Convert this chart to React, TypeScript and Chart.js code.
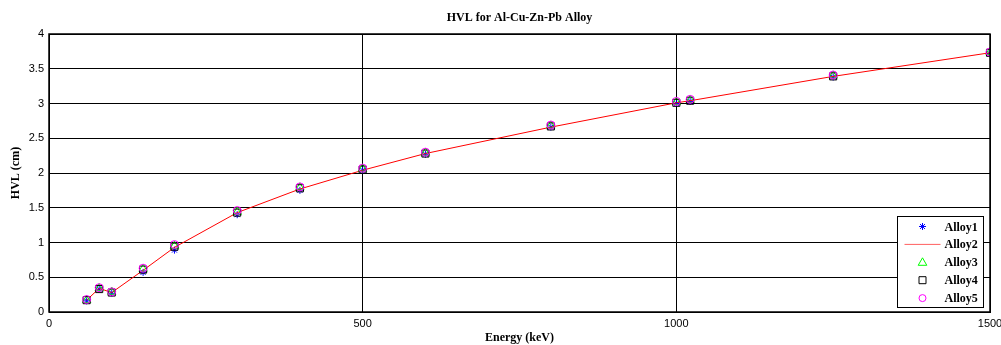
import React, { useEffect, useRef } from "react";
import { Chart, registerables } from "chart.js";

Chart.register(...registerables);

const energies = [60, 80, 100, 150, 200, 300, 400, 500, 600, 800, 1000, 1022, 1250, 1500];
const alloy1 = [0.16, 0.33, 0.27, 0.57, 0.89, 1.40, 1.75, 2.04, 2.27, 2.66, 3.00, 3.03, 3.38, 3.72];
const alloy2 = [0.17, 0.34, 0.28, 0.60, 0.93, 1.43, 1.77, 2.04, 2.28, 2.66, 3.01, 3.04, 3.39, 3.73];
const alloy3 = [0.17, 0.34, 0.29, 0.62, 0.95, 1.44, 1.79, 2.06, 2.29, 2.68, 3.02, 3.05, 3.40, 3.74];
const alloy4 = [0.17, 0.33, 0.28, 0.61, 0.94, 1.43, 1.78, 2.05, 2.28, 2.67, 3.01, 3.04, 3.39, 3.73];
const alloy5 = [0.18, 0.35, 0.29, 0.63, 0.97, 1.46, 1.80, 2.07, 2.30, 2.69, 3.03, 3.06, 3.41, 3.74];

const seriesLabels = ["Alloy1", "Alloy2", "Alloy3", "Alloy4", "Alloy5"];
const titleText = "HVL for Al-Cu-Zn-Pb Alloy";
const xTitle = "Energy (keV)";
const yTitle = "HVL (cm)";

const SERIF = "'Liberation Serif', 'Times New Roman', serif";
const SANS = "'Liberation Sans', Arial, sans-serif";

const toPts = (ys: number[]) => energies.map((x, i) => ({ x, y: ys[i] }));

function drawMarker(ctx: CanvasRenderingContext2D, kind: string, color: string, x: number, y: number) {
  ctx.save();
  ctx.strokeStyle = color;
  ctx.lineWidth = 1;
  ctx.beginPath();
  if (kind === "star") {
    const r = 3.5;
    ctx.moveTo(x - r, y); ctx.lineTo(x + r, y);
    ctx.moveTo(x, y - r); ctx.lineTo(x, y + r);
    const d = r * 0.707;
    ctx.moveTo(x - d, y - d); ctx.lineTo(x + d, y + d);
    ctx.moveTo(x - d, y + d); ctx.lineTo(x + d, y - d);
  } else if (kind === "line") {
    ctx.moveTo(x - 18, y); ctx.lineTo(x + 18, y);
  } else if (kind === "triangle") {
    ctx.moveTo(x, y - 4.5);
    ctx.lineTo(x + 4.3, y + 3);
    ctx.lineTo(x - 4.3, y + 3);
    ctx.closePath();
  } else if (kind === "rect") {
    ctx.rect(x - 3.5, y - 3.5, 7, 7);
  } else {
    ctx.arc(x, y, 3.5, 0, Math.PI * 2);
  }
  ctx.stroke();
  ctx.restore();
}

const legendKinds = ["star", "line", "triangle", "rect", "circle"];

const framePlugin = {
  id: "frameLegend",
  afterDraw(chart: any) {
    const { ctx, chartArea: ca } = chart;
    ctx.save();
    ctx.strokeStyle = "#000";
    ctx.lineWidth = 1.5;
    ctx.strokeRect(ca.left, ca.top, ca.right - ca.left, ca.bottom - ca.top);

    // legend box
    const w = 86, h = 91;
    const lx = Math.round(ca.right - 7 - w) + 0.5;
    const ly = Math.round(ca.bottom - 5 - h) + 0.5;
    ctx.fillStyle = "#fff";
    ctx.fillRect(lx, ly, w, h);
    ctx.lineWidth = 1;
    ctx.strokeRect(lx, ly, w, h);
    ctx.font = `bold 12px ${SERIF}`;
    ctx.fillStyle = "#000";
    ctx.textBaseline = "middle";
    ctx.textAlign = "left";
    chart.data.datasets.forEach((ds: any, i: number) => {
      const cy = ly + 10 + i * 17.9;
      const col = ds.legendColor;
      drawMarker(ctx, legendKinds[i], col, lx + 25, cy);
      ctx.fillStyle = "#000";
      ctx.fillText(ds.label, lx + 47, cy + 1);
    });
    ctx.restore();
  },
};

export default function App() {
  const ref = useRef<HTMLCanvasElement | null>(null);
  useEffect(() => {
    document.body.style.margin = "0";
    const canvas = ref.current!;
    const chart = new Chart(canvas, {
      type: "scatter",
      data: {
        datasets: [
          {
            label: seriesLabels[0],
            data: toPts(alloy1),
            pointStyle: "star",
            radius: 3.5,
            borderColor: "#0000ff",
            backgroundColor: "#0000ff",
            borderWidth: 1,
            showLine: false,
            order: 5,
            legendColor: "#0000ff",
          } as any,
          {
            label: seriesLabels[1],
            data: toPts(alloy2),
            showLine: true,
            borderColor: "#ff0000",
            backgroundColor: "#ff0000",
            borderWidth: 1,
            pointRadius: 0,
            tension: 0,
            order: 4,
            legendColor: "#ff6060",
          } as any,
          {
            label: seriesLabels[2],
            data: toPts(alloy3),
            pointStyle: "triangle",
            radius: 4.8,
            borderColor: "#00ff00",
            backgroundColor: "rgba(0,0,0,0)",
            borderWidth: 1,
            showLine: false,
            order: 3,
            legendColor: "#00ff00",
          } as any,
          {
            label: seriesLabels[3],
            data: toPts(alloy4),
            pointStyle: "rect",
            radius: 5,
            borderColor: "#000000",
            backgroundColor: "rgba(0,0,0,0)",
            borderWidth: 1,
            showLine: false,
            order: 2,
            legendColor: "#000000",
          } as any,
          {
            label: seriesLabels[4],
            data: toPts(alloy5),
            pointStyle: "circle",
            radius: 4,
            borderColor: "#ff00ff",
            backgroundColor: "rgba(0,0,0,0)",
            borderWidth: 1,
            showLine: false,
            order: 1,
            legendColor: "#ff00ff",
          } as any,
        ],
      },
      options: {
        animation: false,
        responsive: false,
        events: [],
        layout: { padding: { top: 0, right: 11, bottom: 0, left: 0 } },
        plugins: {
          legend: { display: false },
          tooltip: { enabled: false },
          title: {
            display: true,
            fullSize: false,
            text: titleText,
            color: "#000",
            font: { family: SERIF, size: 12, weight: "bold", lineHeight: 1.2 },
            padding: { top: 11, bottom: 8.6 },
          },
        },
        scales: {
          x: {
            type: "linear",
            min: 0,
            max: 1500,
            afterFit: (s: any) => {
              s.height = 33;
              s.paddingLeft = 0;
              s.paddingRight = 0;
            },
            ticks: {
              stepSize: 500,
              color: "#000",
              padding: 5,
              maxRotation: 0,
              font: { family: SANS, size: 11 },
              callback: (v: any) => String(v),
            },
            grid: { color: "#000", lineWidth: 1, drawTicks: false },
            border: { display: true, color: "#000", width: 1 },
            title: {
              display: true,
              text: xTitle,
              color: "#000",
              font: { family: SERIF, size: 12, weight: "bold", lineHeight: 1.2 },
              padding: { top: 0, bottom: 0 },
            },
          },
          y: {
            type: "linear",
            min: 0,
            max: 4,
            afterFit: (s: any) => {
              s.width = 49;
              s.paddingTop = 0;
              s.paddingBottom = 0;
            },
            ticks: {
              stepSize: 0.5,
              color: "#000",
              padding: 5,
              font: { family: SANS, size: 11 },
              callback: (v: any) => String(v),
            },
            grid: { color: "#000", lineWidth: 1, drawTicks: false },
            border: { display: true, color: "#000", width: 1 },
            title: {
              display: true,
              text: yTitle,
              color: "#000",
              font: { family: SERIF, size: 12, weight: "bold", lineHeight: 1.2 },
              padding: { top: 9, bottom: 0 },
            },
          },
        },
      } as any,
      plugins: [framePlugin],
    });
    return () => chart.destroy();
  }, []);

  return (
    <div style={{ width: 1001, height: 345, background: "#fff" }}>
      <canvas ref={ref} width={1001} height={345} style={{ display: "block", width: 1001, height: 345 }} />
    </div>
  );
}
